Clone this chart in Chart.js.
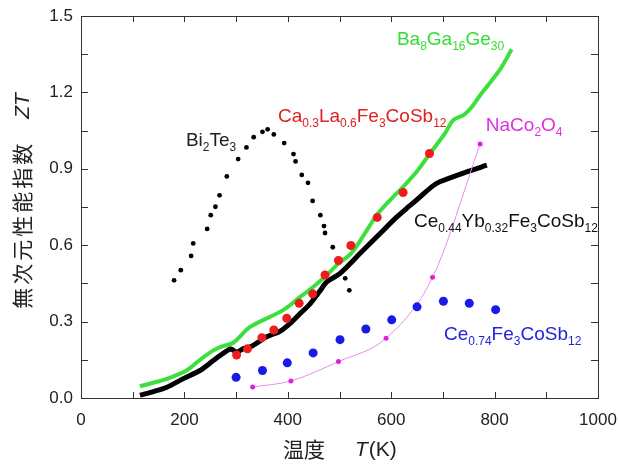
<!DOCTYPE html>
<html>
<head>
<meta charset="utf-8">
<script src="https://cdn.jsdelivr.net/npm/chart.js@4.4.0/dist/chart.umd.min.js"></script>
<style>
  html, body { margin: 0; padding: 0; background: #fff; }
  #wrap { width: 619px; height: 464px; }
</style>
</head>
<body>
<div id="wrap"><canvas id="zt-chart" width="619" height="464"></canvas></div>
<script>
// ZT vs temperature

var xTicks = [0, 200, 400, 600, 800, 1000];
var yTicks = ['0.0', '0.3', '0.6', '0.9', '1.2', '1.5'];

// Ba8Ga16Ge30 (green line)
var baT  = [114, 140, 166, 204, 230, 256, 269, 295, 327, 391, 424, 449, 474, 498, 522, 548, 572, 598, 623, 650, 675, 704, 720, 740, 756, 772, 810, 833];
var baZT = [0.046, 0.06, 0.075, 0.108, 0.150, 0.187, 0.20, 0.218, 0.279, 0.345, 0.397, 0.436, 0.48, 0.528, 0.567, 0.643, 0.718, 0.777, 0.829, 0.89, 0.960, 1.039, 1.091, 1.111, 1.143, 1.189, 1.288, 1.369];

// Ce0.44Yb0.32Fe3CoSb12 (thick black line)
var ceybT  = [114, 140, 166, 198, 230, 256, 275, 290, 301, 314, 327, 359, 385, 404, 424, 443, 462, 475, 501, 540, 578, 611, 636, 656, 680, 694, 746, 785];
var ceybZT = [0.011, 0.025, 0.042, 0.076, 0.108, 0.147, 0.175, 0.192, 0.180, 0.194, 0.20, 0.24, 0.262, 0.292, 0.332, 0.37, 0.42, 0.455, 0.489, 0.568, 0.645, 0.711, 0.755, 0.79, 0.832, 0.849, 0.888, 0.914];

// Ca0.3La0.6Fe3CoSb12 (red dots)
var caT  = [301, 322, 350, 373, 398, 422, 448, 472, 498, 522, 573, 623, 674];
var caZT = [0.169, 0.193, 0.237, 0.267, 0.313, 0.372, 0.409, 0.483, 0.540, 0.599, 0.709, 0.807, 0.960];

// Ce0.74Fe3CoSb12 (blue dots)
var ceT  = [300, 351, 399, 449, 501, 551, 601, 650, 701, 751, 802];
var ceZT = [0.081, 0.108, 0.138, 0.177, 0.229, 0.271, 0.307, 0.358, 0.380, 0.372, 0.347];

// NaCo2O4 (magenta)
var naT  = [332, 406, 498, 590, 680, 772];
var naZT = [0.043, 0.067, 0.143, 0.235, 0.474, 0.997];

// Bi2Te3 (small black dots)
var biT  = [180, 193, 213, 217, 244, 251, 260, 268, 282, 304, 320, 334, 351, 361, 373, 393, 411, 415, 427, 439, 448, 463, 470, 472, 487, 511, 519];
var biZT = [0.462, 0.502, 0.558, 0.607, 0.664, 0.718, 0.751, 0.796, 0.870, 0.938, 0.984, 1.024, 1.045, 1.055, 1.035, 1.001, 0.958, 0.929, 0.876, 0.845, 0.774, 0.718, 0.675, 0.648, 0.592, 0.470, 0.423];

function pts(xs, ys) {
    var out = [];
    for (var i = 0; i < xs.length; i++) out.push({ x: xs[i], y: ys[i] });
    return out;
}

var latin = '"Liberation Sans", Arial, sans-serif';
var cjk = '"Noto Sans CJK JP", "Noto Sans CJK SC", sans-serif';

// text labels with subscripts, left edge / baseline in data coords
var seriesLabels = [
    { x: 611, y: 1.386, color: '#33dd33', parts: [['Ba'], ['8', 1], ['Ga'], ['16', 1], ['Ge'], ['30', 1]] },
    { x: 381, y: 1.083, color: '#e02020', parts: [['Ca'], ['0.3', 1], ['La'], ['0.6', 1], ['Fe'], ['3', 1], ['CoSb'], ['12', 1]] },
    { x: 203, y: 0.989, color: '#222', parts: [['Bi'], ['2', 1], ['Te'], ['3', 1]] },
    { x: 783, y: 1.048, color: '#e030e0', parts: [['NaCo'], ['2', 1], ['O'], ['4', 1]] },
    { x: 644, y: 0.672, color: '#111', parts: [['Ce'], ['0.44', 1], ['Yb'], ['0.32', 1], ['Fe'], ['3', 1], ['CoSb'], ['12', 1]] },
    { x: 702, y: 0.227, color: '#2222dd', parts: [['Ce'], ['0.74', 1], ['Fe'], ['3', 1], ['CoSb'], ['12', 1]] }
];

var framePlugin = {
    id: 'frame',
    afterDraw: function (chart) {
        var ctx = chart.ctx, a = chart.chartArea;
        var sx = chart.scales.x, sy = chart.scales.y;
        ctx.save();
        ctx.strokeStyle = '#333';
        ctx.lineWidth = 1;
        ctx.strokeRect(Math.round(a.left) + 0.5, Math.round(a.top) + 0.5, Math.round(a.right - a.left), Math.round(a.bottom - a.top));
        ctx.beginPath();
        for (var t = 0; t <= 1000; t += 100) {
            var px = Math.round(sx.getPixelForValue(t)) + 0.5;
            ctx.moveTo(px, a.bottom); ctx.lineTo(px, a.bottom - 6);
            ctx.moveTo(px, a.top); ctx.lineTo(px, a.top + 6);
        }
        for (var k = 0; k <= 10; k++) {
            var py = Math.round(sy.getPixelForValue(k * 0.15)) + 0.5;
            ctx.moveTo(a.left, py); ctx.lineTo(a.left + 7, py);
            ctx.moveTo(a.right, py); ctx.lineTo(a.right - 7, py);
        }
        ctx.stroke();

        // series labels
        ctx.textBaseline = 'alphabetic';
        seriesLabels.forEach(function (lb) {
            var x = sx.getPixelForValue(lb.x), y = sy.getPixelForValue(lb.y);
            ctx.fillStyle = lb.color;
            lb.parts.forEach(function (p) {
                ctx.font = (p[1] ? '12px ' : '19px ') + latin;
                ctx.fillText(p[0], x, p[1] ? y + 5 : y);
                x += ctx.measureText(p[0]).width;
            });
        });

        // axis titles
        ctx.fillStyle = '#222';
        ctx.textBaseline = 'middle';
        ctx.font = '21px ' + cjk;
        var kx = '温度', w1 = ctx.measureText(kx).width;
        var cx = 283, gap = 30;
        ctx.fillText(kx, cx, 449);
        ctx.font = 'italic 21px ' + latin;
        var w2 = ctx.measureText('T').width;
        ctx.fillText('T', cx + w1 + gap, 450);
        ctx.font = '21px ' + latin;
        ctx.fillText('(K)', cx + w1 + gap + w2 + 1, 450);

        ctx.translate(22, 201);
        ctx.rotate(-Math.PI / 2);
        var ky = '無次元性能指数';
        ctx.font = '21px ' + cjk;
        ctx.letterSpacing = '3px';
        var v1 = ctx.measureText(ky).width;
        ctx.letterSpacing = '0px';
        ctx.font = 'italic 21px ' + latin;
        var v2 = ctx.measureText('ZT').width;
        var gy = 22;
        var cy = -(v1 + gy + v2) / 2;
        ctx.font = '21px ' + cjk;
        ctx.letterSpacing = '3px';
        ctx.fillText(ky, cy, 0);
        ctx.letterSpacing = '0px';
        ctx.font = 'italic 21px ' + latin;
        ctx.fillText('ZT', cy + v1 + gy, 1);
        ctx.restore();
    }
};

var ctx = document.getElementById('zt-chart').getContext('2d');
var myChart = new Chart(ctx, {
    type: 'scatter',
    data: {
        datasets: [
            {
                label: 'Ba8Ga16Ge30',
                data: pts(baT, baZT),
                showLine: true,
                borderColor: '#3ce03c',
                borderWidth: 4,
                pointRadius: 0,
                tension: 0.3,
                order: 6
            },
            {
                label: 'Ce0.44Yb0.32Fe3CoSb12',
                data: pts(ceybT, ceybZT),
                showLine: true,
                borderColor: '#000',
                borderWidth: 5,
                pointRadius: 0,
                tension: 0.3,
                order: 5
            },
            {
                label: 'NaCo2O4',
                data: pts(naT, naZT),
                showLine: true,
                borderColor: '#ee88ee',
                borderWidth: 1,
                pointRadius: 2.5,
                pointBackgroundColor: '#e020e0',
                pointBorderWidth: 0,
                cubicInterpolationMode: 'monotone',
                order: 4
            },
            {
                label: 'Ca0.3La0.6Fe3CoSb12',
                data: pts(caT, caZT),
                pointRadius: 4.5,
                pointBackgroundColor: '#ee1c1c',
                pointBorderWidth: 0,
                order: 3
            },
            {
                label: 'Ce0.74Fe3CoSb12',
                data: pts(ceT, ceZT),
                pointRadius: 4.5,
                pointBackgroundColor: '#1a1ae6',
                pointBorderWidth: 0,
                order: 2
            },
            {
                label: 'Bi2Te3',
                data: pts(biT, biZT),
                pointRadius: 2.4,
                pointBackgroundColor: '#000',
                pointBorderWidth: 0,
                order: 1
            }
        ]
    },
    options: {
        responsive: false,
        animation: false,
        layout: { padding: { left: 0, right: 21, top: 16, bottom: 0 } },
        plugins: {
            legend: { display: false },
            tooltip: { enabled: false }
        },
        scales: {
            x: {
                type: 'linear',
                min: 0,
                max: 1000,
                grid: { display: false, drawTicks: false },
                border: { display: false },
                afterFit: function (scale) {
                    scale.height = 66;
                    scale.paddingLeft = 0;
                    scale.paddingRight = 0;
                },
                ticks: {
                    stepSize: 100,
                    padding: 12,
                    maxRotation: 0,
                    autoSkip: false,
                    color: '#222',
                    font: { family: latin, size: 17 },
                    callback: function (v) {
                        var i = xTicks.indexOf(Math.round(v));
                        return i >= 0 ? String(xTicks[i]) : '';
                    }
                }
            },
            y: {
                min: 0,
                max: 1.5,
                grid: { display: false, drawTicks: false },
                border: { display: false },
                afterFit: function (scale) {
                    scale.width = 81;
                    scale.paddingTop = 0;
                    scale.paddingBottom = 0;
                },
                ticks: {
                    stepSize: 0.15,
                    padding: 8,
                    autoSkip: false,
                    color: '#222',
                    font: { family: latin, size: 17 },
                    callback: function (v) {
                        var n = Math.round(v / 0.3);
                        if (Math.abs(n * 0.3 - v) > 1e-6) return '';
                        return yTicks[n];
                    }
                }
            }
        }
    },
    plugins: [framePlugin]
});
</script>
</body>
</html>
